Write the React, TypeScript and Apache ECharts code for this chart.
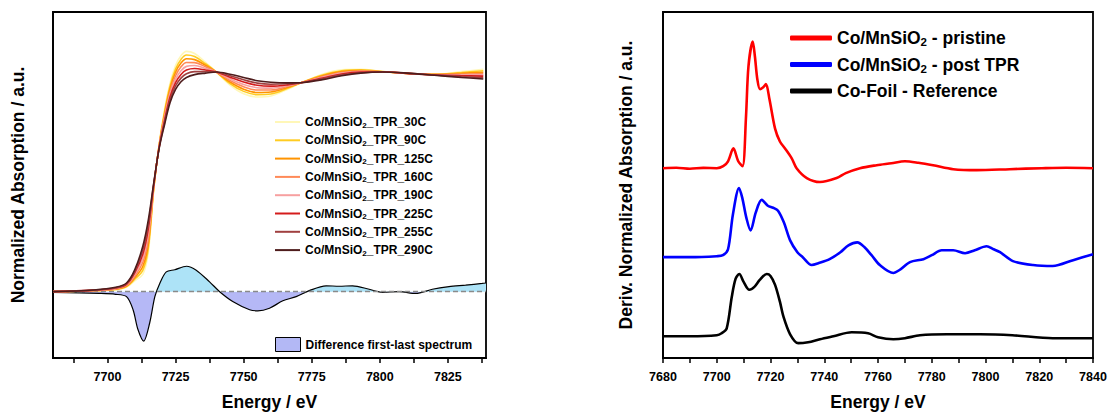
import React, { useEffect, useRef } from "react";
import * as echarts from "echarts";

// ---------- Left panel: XANES spectra during TPR ----------
const xanesEnergy = [7680, 7695, 7703, 7707, 7710, 7713, 7715, 7717, 7719, 7721, 7723, 7725, 7727, 7729, 7732, 7736, 7740, 7745, 7750, 7755, 7760, 7766, 7772, 7779, 7786, 7793, 7801, 7810, 7820, 7830, 7838];
const xanes30C = [0.0, 0.003, 0.008, 0.02, 0.05, 0.08, 0.18, 0.47, 0.68, 0.84, 0.96, 1.04, 1.085, 1.105, 1.095, 1.055, 1.01, 0.95, 0.91, 0.895, 0.9, 0.93, 0.965, 1.0, 1.02, 1.022, 1.012, 1.003, 1.0, 1.012, 1.022];
const xanes90C = [0.0, 0.004, 0.010, 0.023, 0.057, 0.099, 0.20, 0.474, 0.677, 0.83, 0.947, 1.024, 1.068, 1.088, 1.081, 1.048, 1.01, 0.957, 0.921, 0.906, 0.909, 0.934, 0.965, 0.996, 1.016, 1.02, 1.012, 1.003, 0.999, 1.008, 1.016];
const xanes125C = [0.0, 0.005, 0.012, 0.026, 0.064, 0.117, 0.22, 0.479, 0.674, 0.82, 0.934, 1.009, 1.051, 1.071, 1.067, 1.041, 1.01, 0.964, 0.931, 0.916, 0.918, 0.939, 0.964, 0.993, 1.012, 1.017, 1.011, 1.003, 0.999, 1.004, 1.009];
const xanes160C = [0.0, 0.005, 0.013, 0.029, 0.071, 0.136, 0.24, 0.483, 0.671, 0.81, 0.921, 0.993, 1.034, 1.054, 1.053, 1.034, 1.01, 0.971, 0.942, 0.927, 0.927, 0.943, 0.964, 0.989, 1.008, 1.015, 1.011, 1.004, 0.998, 1.0, 1.003];
const xanes190C = [0.0, 0.006, 0.015, 0.031, 0.079, 0.154, 0.27, 0.487, 0.669, 0.80, 0.909, 0.977, 1.016, 1.036, 1.04, 1.026, 1.01, 0.979, 0.953, 0.938, 0.936, 0.947, 0.963, 0.986, 1.005, 1.012, 1.011, 1.004, 0.997, 0.997, 0.997];
const xanes225C = [0.0, 0.007, 0.017, 0.034, 0.086, 0.173, 0.29, 0.491, 0.666, 0.79, 0.896, 0.961, 0.999, 1.019, 1.026, 1.019, 1.01, 0.986, 0.964, 0.949, 0.945, 0.951, 0.963, 0.982, 1.001, 1.01, 1.011, 1.004, 0.997, 0.993, 0.991];
const xanes255C = [0.0, 0.007, 0.018, 0.037, 0.093, 0.191, 0.31, 0.496, 0.663, 0.78, 0.883, 0.946, 0.982, 1.002, 1.012, 1.012, 1.01, 0.993, 0.974, 0.959, 0.954, 0.956, 0.962, 0.979, 0.997, 1.007, 1.01, 1.005, 0.996, 0.989, 0.984];
const xanes290C = [0.0, 0.008, 0.02, 0.04, 0.10, 0.21, 0.33, 0.50, 0.66, 0.77, 0.87, 0.93, 0.965, 0.985, 0.998, 1.005, 1.01, 1.0, 0.985, 0.97, 0.963, 0.96, 0.962, 0.975, 0.993, 1.005, 1.01, 1.005, 0.995, 0.985, 0.978];
const xanesNames = ["Co/MnSiO2_TPR_30C", "Co/MnSiO2_TPR_90C", "Co/MnSiO2_TPR_125C", "Co/MnSiO2_TPR_160C", "Co/MnSiO2_TPR_190C", "Co/MnSiO2_TPR_225C", "Co/MnSiO2_TPR_255C", "Co/MnSiO2_TPR_290C"];
const xanesSeries = [xanes30C, xanes90C, xanes125C, xanes160C, xanes190C, xanes225C, xanes255C, xanes290C];

const diffName = "Difference first-last spectrum";
const diffEnergy = [7680, 7697, 7703, 7707, 7709.4, 7711.2, 7713.3, 7715.5, 7717.4, 7719.2, 7721.6, 7724.7, 7729, 7732.6, 7737.5, 7741.2, 7746, 7752.2, 7755.2, 7759.5, 7764.4, 7769.3, 7774.1, 7780.3, 7785.1, 7790, 7796.1, 7801, 7807.1, 7813.2, 7819.3, 7825.4, 7831.5, 7837.6, 7839];
const diffValue = [-0.003, -0.008, -0.012, -0.023, -0.083, -0.174, -0.227, -0.144, -0.023, 0.038, 0.091, 0.101, 0.117, 0.099, 0.045, 0, -0.045, -0.083, -0.088, -0.076, -0.042, -0.023, 0.005, 0.027, 0.025, 0.027, 0.011, -0.003, 0, -0.008, 0.011, 0.023, 0.030, 0.038, 0.04];

const leftTickValues = [7687.5, 7700, 7712.5, 7725, 7737.5, 7750, 7762.5, 7775, 7787.5, 7800, 7812.5, 7825, 7837.5];
const leftLabelValues = [7700, 7725, 7750, 7775, 7800, 7825];

// ---------- Right panel: derivative spectra ----------
const derivNames = ["Co/MnSiO2 - pristine", "Co/MnSiO2 - post TPR", "Co-Foil - Reference"];
const pristineEnergy = [7680, 7685, 7690, 7695, 7700, 7702.4, 7704.2, 7706.2, 7708, 7709.6, 7710.9, 7711.8, 7713.4, 7714.2, 7715.1, 7716.1, 7717.3, 7718.3, 7719.6, 7721.7, 7723.5, 7725.4, 7727.9, 7729.7, 7733.5, 7738.4, 7744.6, 7748, 7753.3, 7759.5, 7765, 7770, 7775, 7780.5, 7788, 7796.7, 7809, 7821, 7830, 7840];
const pristineValue = [0, 0.005, -0.005, 0.003, 0, 0.02, 0.07, 0.20, 0.07, 0.02, 0.53, 1.03, 1.28, 1.13, 0.9, 0.8, 0.82, 0.85, 0.70, 0.40, 0.27, 0.20, 0.10, 0.0, -0.10, -0.14, -0.10, -0.05, 0.0, 0.03, 0.05, 0.07, 0.055, 0.03, -0.01, -0.02, -0.01, 0.0, 0.005, 0.0];
const postEnergy = [7680, 7690, 7700, 7702.3, 7704.2, 7706, 7708.3, 7709.5, 7711, 7712.6, 7714.5, 7716.7, 7719, 7721, 7722.8, 7725, 7727.3, 7730, 7732, 7735.3, 7738, 7742, 7746, 7749, 7752.3, 7755, 7757.6, 7760.7, 7765.7, 7768, 7771.9, 7776.9, 7780, 7783.7, 7788, 7792.4, 7796, 7800.4, 7803, 7805.4, 7810.2, 7817.7, 7825, 7832.6, 7840];
const postValue = [0, 0, 0.01, 0.02, 0.08, 0.43, 0.70, 0.6, 0.4, 0.27, 0.45, 0.58, 0.52, 0.5, 0.47, 0.35, 0.17, 0.05, 0.0, -0.08, -0.06, -0.02, 0.05, 0.12, 0.15, 0.10, 0.02, -0.08, -0.16, -0.13, -0.05, -0.02, 0.02, 0.07, 0.07, 0.04, 0.07, 0.11, 0.08, 0.05, -0.04, -0.08, -0.09, -0.03, 0.03];
const foilEnergy = [7680, 7690, 7700, 7701.8, 7703.7, 7705.6, 7707, 7708.4, 7710, 7712.1, 7714, 7716, 7718.6, 7720, 7721.7, 7723.5, 7724.8, 7727.3, 7730.3, 7734, 7738.4, 7743.4, 7750.2, 7756.3, 7760, 7765.7, 7770, 7775.6, 7785.6, 7798, 7810, 7825, 7840];
const foilValue = [0, 0, 0.01, 0.03, 0.08, 0.40, 0.58, 0.63, 0.55, 0.47, 0.50, 0.57, 0.63, 0.61, 0.52, 0.35, 0.20, 0.02, -0.07, -0.06, -0.03, 0.0, 0.04, 0.03, -0.01, -0.03, -0.02, 0.01, 0.02, 0.02, 0.01, -0.02, -0.02];
const derivOffsets = [1.92, 1.02, 0.22];

// ---------- styles ----------
const xanesColors = ["#fff7b8", "#ffcc22", "#ff9400", "#ff8a58", "#f7a0a0", "#d41c1c", "#a04040", "#4e1c1c"];
const derivColors = ["#ff0000", "#0000ff", "#000000"];
const POS_FILL = "#ade3f7";
const NEG_FILL = "#b5b8f6";
const FONT = "'Liberation Sans', Arial, sans-serif";

const zip = (xs: number[], ys: number[], off = 0) => xs.map((x, i) => [x, ys[i] + off]);
const subFmt = (name: string) => name.replace("SiO2", "SiO{sub|2}");
const plainNum = (v: number) => String(v);

export default function App() {
  const ref = useRef<HTMLDivElement>(null);
  useEffect(() => {
    if (!ref.current) return;
    const chart = echarts.init(ref.current, undefined, { renderer: "svg" });
    const axisLine = { show: true, onZero: false, lineStyle: { color: "#000", width: 1.8 } };
    const nameStyle = { fontSize: 17.5, fontWeight: "bold" as const, color: "#000", fontFamily: FONT };
    const labelStyle = { fontSize: 12.5, fontWeight: "bold" as const, color: "#000", fontFamily: FONT, formatter: plainNum };
    const gridBase = { show: true, borderColor: "#000", borderWidth: 1.8, containLabel: false };

    const series: any[] = [];
    series.push({
      id: "diff",
      name: diffName,
      type: "line",
      xAxisIndex: 0,
      yAxisIndex: 0,
      data: zip(diffEnergy, diffValue),
      showSymbol: false,
      smooth: 0.3,
      color: NEG_FILL,
      lineStyle: { color: "#000", width: 1.2 },
      areaStyle: { opacity: 1, color: NEG_FILL },
      markLine: {
        silent: true,
        symbol: "none",
        label: { show: false },
        lineStyle: { color: "#8a8a8a", type: [5, 3], width: 1.3 },
        data: [{ yAxis: 0 }],
      },
      z: 2,
    });
    xanesSeries.forEach((vals, i) => {
      series.push({
        name: xanesNames[i],
        type: "line",
        xAxisIndex: 0,
        yAxisIndex: 0,
        data: zip(xanesEnergy, vals),
        showSymbol: false,
        smooth: 0.35,
        color: xanesColors[i],
        lineStyle: { color: xanesColors[i], width: 1.6 },
        z: 3 + i,
      });
    });
    const derivData = [
      zip(pristineEnergy, pristineValue, derivOffsets[0]),
      zip(postEnergy, postValue, derivOffsets[1]),
      zip(foilEnergy, foilValue, derivOffsets[2]),
    ];
    derivData.forEach((d, i) => {
      series.push({
        name: derivNames[i],
        type: "line",
        xAxisIndex: 1,
        yAxisIndex: 1,
        data: d,
        showSymbol: false,
        smooth: 0.3,
        color: derivColors[i],
        lineStyle: { color: derivColors[i], width: 2.6 },
      });
    });

    const option: any = {
      animation: false,
      backgroundColor: "#fff",
      textStyle: { fontFamily: FONT },
      grid: [
        { ...gridBase, left: 53, top: 12, width: 433, height: 350 },
        { ...gridBase, left: 663, top: 12, width: 430, height: 350 },
      ],
      xAxis: [
        {
          type: "value",
          gridIndex: 0,
          min: 7680,
          max: 7839,
          axisLine,
          axisTick: { show: true, length: 5, customValues: leftTickValues, lineStyle: { color: "#000", width: 1.5 } },
          axisLabel: { ...labelStyle, margin: 12, customValues: leftLabelValues },
          splitLine: { show: false },
          name: "Energy / eV",
          nameLocation: "middle",
          nameGap: 35,
          nameTextStyle: nameStyle,
        },
        {
          type: "value",
          gridIndex: 1,
          min: 7680,
          max: 7840,
          interval: 20,
          axisLine,
          axisTick: { show: true, length: 5, lineStyle: { color: "#000", width: 1.5 } },
          minorTick: { show: true, splitNumber: 2, length: 5, lineStyle: { color: "#000", width: 1.5 } },
          axisLabel: { ...labelStyle, margin: 12, showMinLabel: true, showMaxLabel: true },
          splitLine: { show: false },
          name: "Energy / eV",
          nameLocation: "middle",
          nameGap: 35,
          nameTextStyle: nameStyle,
        },
      ],
      yAxis: [
        {
          type: "value",
          gridIndex: 0,
          min: -0.305,
          max: 1.286,
          axisLine,
          axisTick: { show: false },
          axisLabel: { show: false },
          splitLine: { show: false },
          name: "Normalized Absorption / a.u.",
          nameLocation: "middle",
          nameGap: 26,
          nameTextStyle: nameStyle,
        },
        {
          type: "value",
          gridIndex: 1,
          min: 0,
          max: 3.5,
          axisLine,
          axisTick: { show: false },
          axisLabel: { show: false },
          splitLine: { show: false },
          name: "Deriv. Normalized Absorption / a.u.",
          nameLocation: "middle",
          nameGap: 28,
          nameTextStyle: nameStyle,
        },
      ],
      legend: [
        {
          data: xanesNames,
          orient: "vertical",
          left: 270,
          top: 110,
          icon: "rect",
          itemWidth: 25,
          itemHeight: 2,
          itemGap: 4.3,
          selectedMode: false,
          formatter: subFmt,
          textStyle: {
            fontSize: 12,
            fontWeight: "bold",
            color: "#000",
            fontFamily: FONT,
            lineHeight: 14,
            rich: { sub: { fontSize: 8, fontWeight: "bold", fontFamily: FONT, verticalAlign: "bottom", lineHeight: 9, padding: [5, 0, 0, 0] } },
          },
        },
        {
          data: [{ name: diffName, icon: "rect", itemStyle: { color: "#b3b8f5", borderColor: "#000", borderWidth: 1 } }],
          left: 270,
          top: 332,
          itemWidth: 25,
          itemHeight: 14,
          selectedMode: false,
          textStyle: { fontSize: 12, fontWeight: "bold", color: "#000", fontFamily: FONT },
        },
        {
          data: derivNames,
          orient: "vertical",
          left: 785,
          top: 23,
          icon: "roundRect",
          itemWidth: 42,
          itemHeight: 5,
          itemGap: 6.5,
          selectedMode: false,
          formatter: subFmt,
          textStyle: {
            fontSize: 17.5,
            fontWeight: "bold",
            color: "#000",
            fontFamily: FONT,
            lineHeight: 20,
            rich: { sub: { fontSize: 11.5, fontWeight: "bold", fontFamily: FONT, verticalAlign: "bottom", lineHeight: 12, padding: [8, 0, 0, 0] } },
          },
        },
      ],
      series,
    };
    chart.setOption(option);

    // split the difference fill colour at the zero line (positive: cyan, negative: lavender)
    const p0 = chart.convertToPixel({ gridIndex: 0 }, [7680, 0]) as number[];
    const pTop = chart.convertToPixel({ gridIndex: 0 }, [7680, 1.286]) as number[];
    const pBot = chart.convertToPixel({ gridIndex: 0 }, [7680, -0.305]) as number[];
    if (p0 && pTop && pBot) {
      const off = (p0[1] - pTop[1]) / (pBot[1] - pTop[1]);
      const grad = new echarts.graphic.LinearGradient(0, pTop[1], 0, pBot[1], [
        { offset: 0, color: POS_FILL },
        { offset: off, color: POS_FILL },
        { offset: off, color: NEG_FILL },
        { offset: 1, color: NEG_FILL },
      ], true);
      chart.setOption({ series: [{ id: "diff", areaStyle: { opacity: 1, color: grad } }] });
    }
    return () => chart.dispose();
  }, []);
  return <div ref={ref} style={{ position: "fixed", left: 0, top: 0, width: 1110, height: 416, background: "#fff" }} />;
}
